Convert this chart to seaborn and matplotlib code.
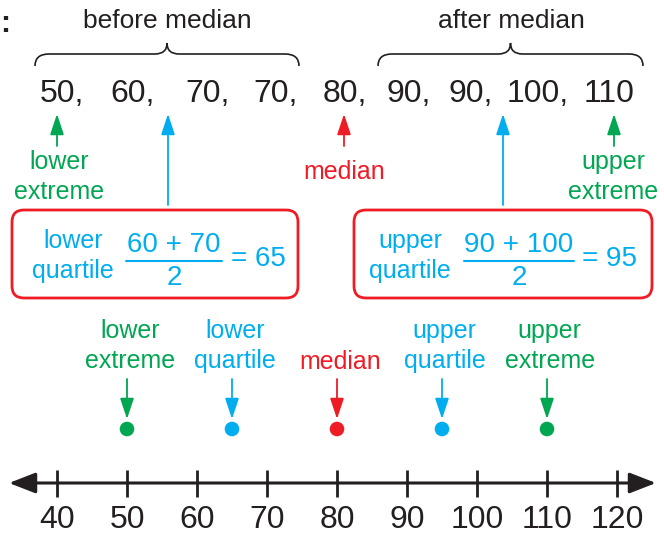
import matplotlib
matplotlib.use("Agg")
import matplotlib.pyplot as plt
import seaborn as sns
import numpy as np
import pandas as pd
from matplotlib.patches import FancyBboxPatch, PathPatch
from matplotlib.path import Path

# data
data_values = [50, 60, 70, 70, 80, 90, 90, 100, 110]
value_labels = ["50,", "60,", "70,", "70,", "80,", "90,", "90,", "100,", "110"]
summary_names = ["lower\nextreme", "lower\nquartile", "median", "upper\nquartile", "upper\nextreme"]
summary_values = [50, 65, 80, 95, 110]
summary_kind = ["extreme", "quartile", "median", "quartile", "extreme"]
axis_ticks = [40, 50, 60, 70, 80, 90, 100, 110, 120]

GREEN = "#00A651"
BLUE = "#00AEEF"
RED = "#EE1C25"
INK = "#231F20"
palette = {"extreme": GREEN, "quartile": BLUE, "median": RED}

sns.set_theme(style="white")
plt.rcParams["font.family"] = ["Liberation Sans", "DejaVu Sans"]

fig = plt.figure(figsize=(6.64, 5.34), dpi=100)
# layout axes in pixel coordinates
bg = fig.add_axes([0, 0, 1, 1])
bg.set_xlim(0, 664)
bg.set_ylim(534, 0)
bg.axis("off")
# number line axes in data units (x) / pixels (y)
ax = fig.add_axes([0, 0, 1, 1])
ax.set_xlim(40 - 57 / 7, 40 + 607 / 7)
ax.set_ylim(534, 0)
ax.axis("off")
ax.patch.set_alpha(0)

LS = 1.35

# ---- top row: the ordered data ----
bg.text(0, 24, ":", fontsize=22, fontweight="bold", ha="left", va="center", color=INK)
label_x = [62, 133, 208, 276, 345, 409, 471, 538, 609]
for x, lab in zip(label_x, value_labels):
    bg.text(x, 94, lab, fontsize=23, ha="center", va="center", color=INK)


def brace(ax, x0, x1, y_end, y_mid, y_tip):
    xm = (x0 + x1) / 2
    verts = [(x0, y_end), (x0, y_mid), (x0 + 14, y_mid),
             (xm - 12, y_mid), (xm, y_mid), (xm, y_tip),
             (xm, y_mid), (xm + 12, y_mid),
             (x1 - 14, y_mid), (x1, y_mid), (x1, y_end)]
    codes = [Path.MOVETO, Path.CURVE3, Path.CURVE3,
             Path.LINETO, Path.CURVE3, Path.CURVE3,
             Path.CURVE3, Path.CURVE3,
             Path.LINETO, Path.CURVE3, Path.CURVE3]
    ax.add_patch(PathPatch(Path(verts, codes), fill=False, lw=1.2, ec=INK))


brace(bg, 35, 299, 66, 54, 43)
brace(bg, 378, 643, 66, 54, 43)
bg.text(167, 21, "before median", fontsize=19, ha="center", va="center", color=INK)
bg.text(511, 21, "after median", fontsize=19, ha="center", va="center", color=INK)


def arrow(ax, x, y0, y1, color):
    ax.annotate("", xy=(x, y1), xytext=(x, y0),
                arrowprops=dict(arrowstyle="-|>,head_length=0.9,head_width=0.3",
                                color=color, lw=1.3,
                                mutation_scale=14, shrinkA=0, shrinkB=0))


arrow(bg, 57, 146, 114, GREEN)
arrow(bg, 168, 205, 114, BLUE)
arrow(bg, 344, 146, 114, RED)
arrow(bg, 503, 205, 114, BLUE)
arrow(bg, 614, 146, 114, GREEN)

bg.text(59, 177, "lower\nextreme", fontsize=18, ha="center", va="center", color=GREEN, linespacing=LS)
bg.text(344, 172, "median", fontsize=18, ha="center", va="center", color=RED)
bg.text(613, 177, "upper\nextreme", fontsize=18, ha="center", va="center", color=GREEN, linespacing=LS)

# ---- quartile boxes ----
for (x0, x1), name, num, res, nx, fx, ex, lw_ in [
        ((12, 298), "lower\nquartile", "60 + 70", "= 65", 73, 174, 258, 48),
        ((354, 652), "upper\nquartile", "90 + 100", "= 95", 410, 519, 610, 55)]:
    bg.add_patch(FancyBboxPatch((x0, 210), x1 - x0, 88,
                                boxstyle="round,pad=0,rounding_size=12",
                                fill=False, ec=RED, lw=2))
    bg.text(nx, 256, name, fontsize=18, ha="center", va="center", color=BLUE, linespacing=1.3)
    bg.text(fx, 245, num, fontsize=20, ha="center", va="center", color=BLUE)
    bg.plot([fx - lw_, fx + lw_], [261, 261], color=BLUE, lw=1.5)
    bg.text(fx, 278, "2", fontsize=20, ha="center", va="center", color=BLUE)
    bg.text(ex, 259, res, fontsize=20, ha="center", va="center", color=BLUE)

# ---- five-number summary on the number line ----
df = pd.DataFrame({"value": summary_values, "kind": summary_kind,
                   "y": [429] * len(summary_values)})
sns.scatterplot(data=df, x="value", y="y", hue="kind", palette=palette,
                s=110, edgecolor="none", legend=False, ax=ax, zorder=5)

for v, name, kind in zip(summary_values, summary_names, summary_kind):
    ax.text(v + 0.4, 346 if "\n" in name else 362, name, fontsize=18, ha="center",
            va="center", color=palette[kind], linespacing=LS)
    arrow(ax, v, 379, 419, palette[kind])

# number line
ax.annotate("", xy=(40 + (656 - 57) / 7, 483), xytext=(40 + (9 - 57) / 7, 483),
            arrowprops=dict(arrowstyle="<|-|>,head_length=0.9,head_width=0.35",
                            color=INK, lw=2.2,
                            mutation_scale=18, shrinkA=0, shrinkB=0))
ax.vlines(axis_ticks, 470, 497, color=INK, lw=2)
for t in axis_ticks:
    ax.text(t, 520, str(t), fontsize=23, ha="center", va="center", color=INK)

fig.savefig("out.png", dpi=100)
